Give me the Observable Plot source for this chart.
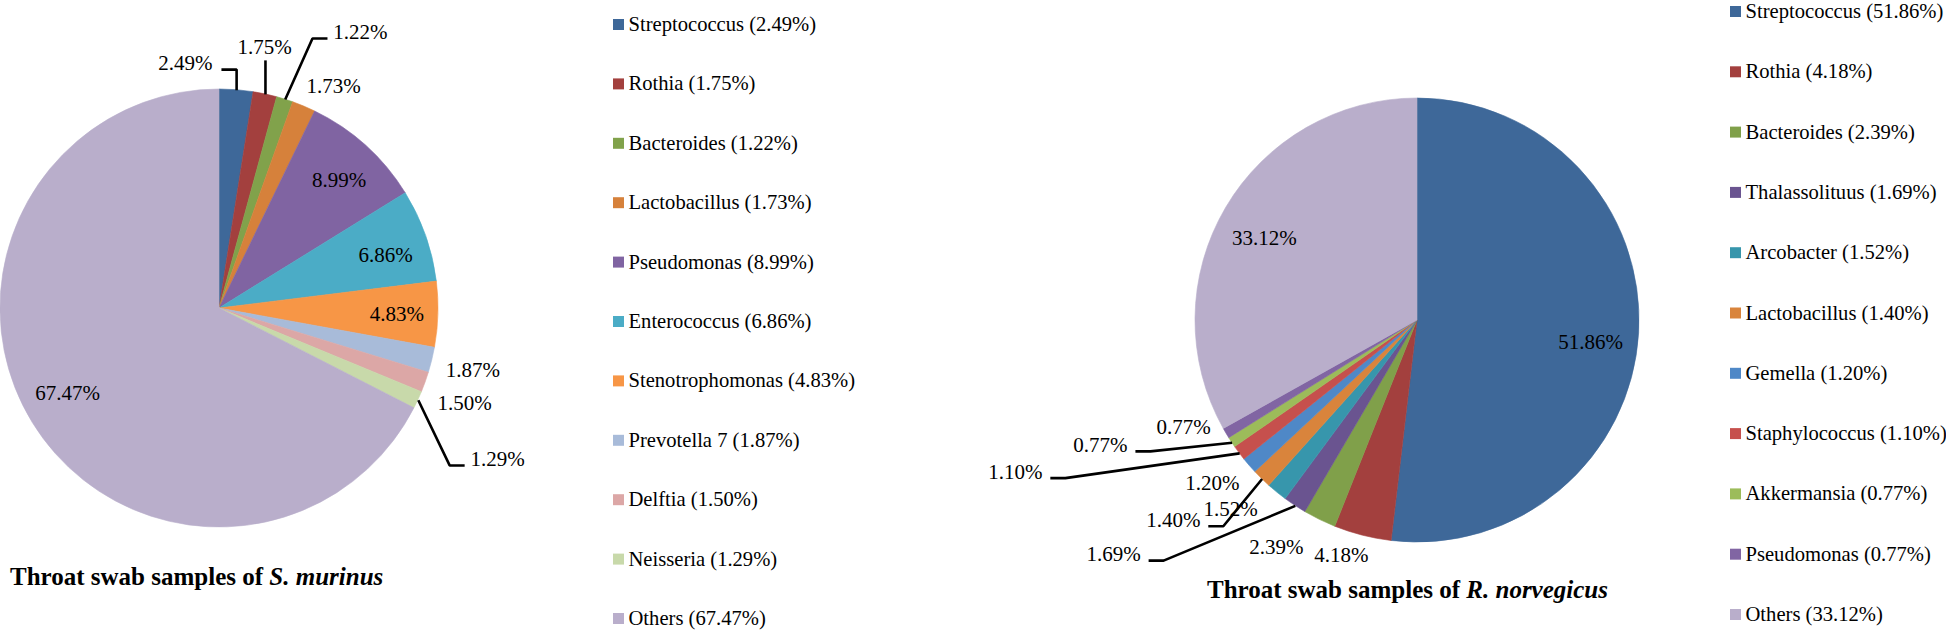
<!DOCTYPE html>
<html>
<head>
<meta charset="utf-8">
<script src="https://cdn.jsdelivr.net/npm/d3@7"></script>
<script src="https://cdn.jsdelivr.net/npm/@observablehq/plot@0.6"></script>
<style>
  html, body { margin: 0; padding: 0; background: #fff; }
  svg { display: block; }
</style>
</head>
<body>
<div id="chart"></div>
<script>
// ---------------- DATA ----------------
const murinusGenera = ["Streptococcus", "Rothia", "Bacteroides", "Lactobacillus", "Pseudomonas", "Enterococcus", "Stenotrophomonas", "Prevotella 7", "Delftia", "Neisseria", "Others"];
const murinusValues = [2.49, 1.75, 1.22, 1.73, 8.99, 6.86, 4.83, 1.87, 1.50, 1.29, 67.47];

const norvegicusGenera = ["Streptococcus", "Rothia", "Bacteroides", "Thalassolituus", "Arcobacter", "Lactobacillus", "Gemella", "Staphylococcus", "Akkermansia", "Pseudomonas", "Others"];
const norvegicusValues = [51.86, 4.18, 2.39, 1.69, 1.52, 1.40, 1.20, 1.10, 0.77, 0.77, 33.12];

// ---------------- STYLES ----------------
const murinusColors = ["#3e6899", "#a3403e", "#81a24b", "#d6813b", "#8064a2", "#4bacc6", "#f79646", "#a8bbd9", "#dca7a6", "#c8d9aa", "#b9aecb"];
const norvegicusColors = ["#3e6899", "#a3403e", "#80a04a", "#6a5490", "#3796ac", "#d9843c", "#4f88c7", "#c6504d", "#9cbc5a", "#8165a3", "#b9aecb"];

// label layout: [radius factor, angle shift (deg), leader kind]
const murinusLabelLayout = [
  [1.129, -12.4, "vh"], [1.21, -2.3, "v"], [1.415, 9.6, "dr"], [1.14, 4.4, null],
  [0.80, 1.0, null], [0.796, 1.7, null], [0.81, 0.3, null], [1.19, -0.1, null],
  [1.2, 1.4, null], [1.445, 3.7, "dr"], [0.795, 2.2, null]
];
const norvegicusLabelLayout = [
  [0.786, 3.95, null], [1.113, 3.7, null], [1.204, 5.8, null], [1.728, 19.0, "dl"],
  [1.195, 5.6, null], [1.421, 6.3, "dl"], [1.18, 2.4, null], [1.936, 16.1, "dl"],
  [1.535, 11.9, "dl"], [1.159, 6.0, null], [0.782, -2.2, null]
];

const W = 1946, H = 635;
const SERIF = "Liberation Serif, Times New Roman, Times, serif";
const LABEL_SIZE = 21, LEGEND_SIZE = 20.6, TITLE_SIZE = 25;

const pies = [
  {
    genera: murinusGenera, values: murinusValues, colors: murinusColors, layout: murinusLabelLayout,
    cx: 219, cy: 308, r: 219,
    legend: {sx: 618, tx: 628, y0: 24, dy: 59.4},
    title: {x: 10, y: 585, plain: "Throat swab samples of ", italic: "S. murinus"}
  },
  {
    genera: norvegicusGenera, values: norvegicusValues, colors: norvegicusColors, layout: norvegicusLabelLayout,
    cx: 1417, cy: 320, r: 222,
    legend: {sx: 1735, tx: 1745, y0: 11, dy: 60.3},
    title: {x: 1207, y: 598, plain: "Throat swab samples of ", italic: "R. norvegicus"}
  }
];

const deg = Math.PI / 180;
function polar(cx, cy, r, a) { return [cx + r * Math.sin(a * deg), cy - r * Math.cos(a * deg)]; }

const half = 27; // half width of a "x.xx%" label
function leaderPath(kind, edge, lx, ly) {
  if (kind === "vh") { const end = [lx + half + 9, ly + 6]; return [edge, [edge[0], end[1]], end]; }
  if (kind === "v") return [edge, [edge[0], ly + 13]];
  if (kind === "dr") { const end = [lx - half - 6, ly + 6]; return [edge, [end[0] - 15, end[1]], end]; }
  if (kind === "dl") { const end = [lx + half + 8, ly + 6]; return [edge, [end[0] + 15, end[1]], end]; }
  return null;
}

const labelRows = [], leaderRows = [], legendRows = [];
pies.forEach((p, pi) => {
  p.arcs = d3.pie().sort(null).value(d => d)(p.values);
  p.arcs.forEach((a, i) => {
    const mid = (a.startAngle + a.endAngle) / 2 / deg;
    const [rf, shift, kind] = p.layout[i];
    const [lx, ly] = polar(p.cx, p.cy, rf * p.r, mid + shift);
    labelRows.push({x: lx, y: ly, text: p.values[i].toFixed(2) + "%"});
    const pts = leaderPath(kind, polar(p.cx, p.cy, p.r, mid), lx, ly);
    if (pts) pts.forEach(([x, y]) => leaderRows.push({x, y, id: pi + "-" + i}));
    legendRows.push({
      sx: p.legend.sx, tx: p.legend.tx, y: p.legend.y0 + i * p.legend.dy,
      color: p.colors[i], text: `${p.genera[i]} (${p.values[i].toFixed(2)}%)`
    });
  });
});

function pieMark(p) {
  return (index, scales) => {
    const X = scales.x(p.cx), Y = scales.y(p.cy);
    const R = scales.x(p.cx + p.r) - X;
    const g = d3.create("svg:g").attr("transform", `translate(${X},${Y})`);
    const arc = d3.arc().innerRadius(0).outerRadius(R);
    g.selectAll("path").data(p.arcs).join("path")
      .attr("d", arc)
      .attr("fill", (d, i) => p.colors[i])
      .attr("stroke", (d, i) => p.colors[i])
      .attr("stroke-width", 0.6);
    return g.node();
  };
}

function titleMark(t) {
  return (index, scales) => {
    const el = d3.create("svg:text")
      .attr("x", scales.x(t.x)).attr("y", scales.y(t.y))
      .attr("text-anchor", "start")
      .attr("font-family", SERIF).attr("font-size", TITLE_SIZE)
      .attr("font-weight", "bold").attr("fill", "#000")
      .style("white-space", "pre");
    el.append("tspan").text(t.plain);
    el.append("tspan").attr("font-style", "italic").text(t.italic);
    return el.node();
  };
}

const chart = Plot.plot({
  width: W,
  height: H,
  margin: 0,
  x: {domain: [0, W], range: [0, W], axis: null},
  y: {domain: [0, H], range: [0, H], axis: null},
  color: {type: "identity"},
  style: {background: "#fff", fontFamily: SERIF},
  marks: [
    ...pies.map(pieMark),
    Plot.line(leaderRows, {x: "x", y: "y", z: "id", stroke: "#000", strokeWidth: 2.6, strokeLinejoin: "miter", strokeLinecap: "butt"}),
    Plot.text(labelRows, {x: "x", y: "y", text: "text", fontSize: LABEL_SIZE, fontFamily: SERIF, fill: "#000"}),
    Plot.dot(legendRows, {x: "sx", y: "y", fill: "color", symbol: "square", r: 6.2, stroke: null}),
    Plot.text(legendRows, {x: "tx", y: "y", text: "text", textAnchor: "start", fontSize: LEGEND_SIZE, fontFamily: SERIF, fill: "#000"}),
    ...pies.map(p => titleMark(p.title))
  ]
});
document.getElementById("chart").appendChild(chart);
</script>
</body>
</html>
